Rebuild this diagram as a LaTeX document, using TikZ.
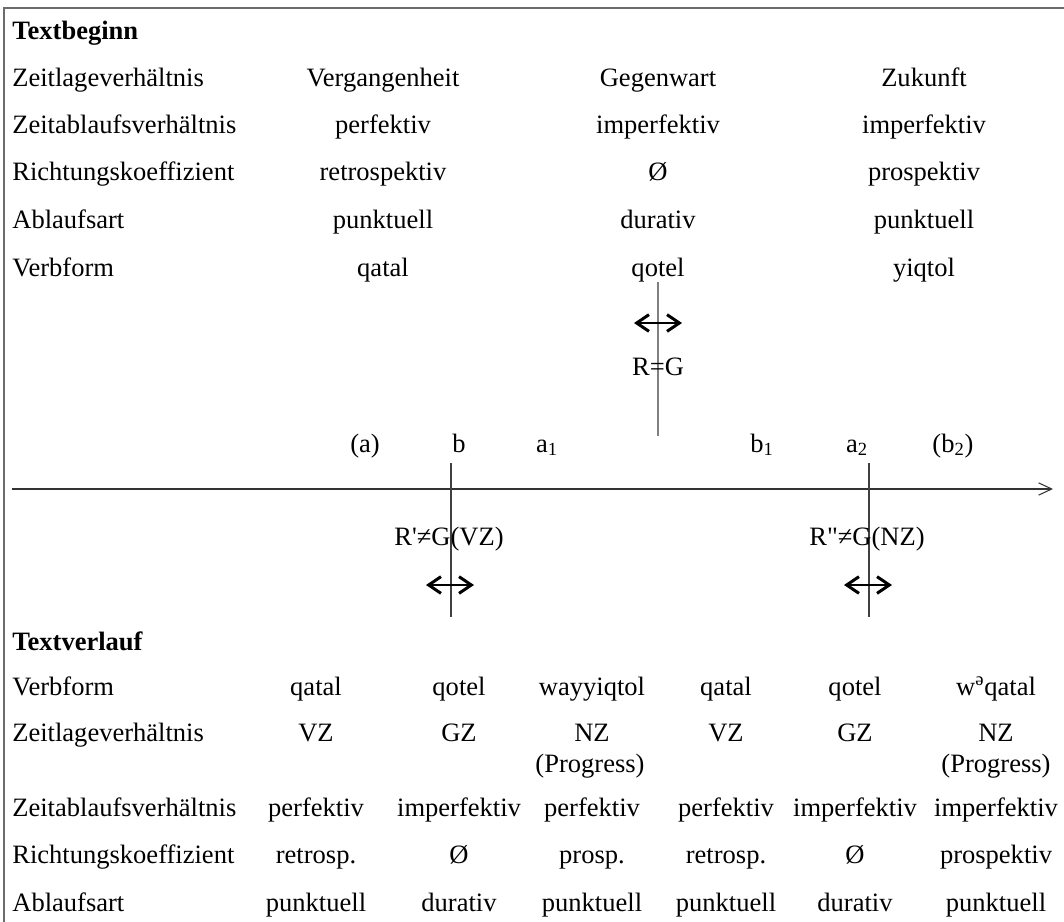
\documentclass[tikz,border=0pt]{standalone}
\usepackage{fontspec}
\setmainfont{Liberation Serif}
\usetikzlibrary{arrows.meta}

\begin{document}
\begin{tikzpicture}[x=0.02cm, y=-0.02cm,
    every node/.style={inner sep=0pt, font=\fontsize{15.1pt}{18pt}\selectfont},
    rowlabel/.style={anchor=base west},
    cell/.style={anchor=base},
    heading/.style={anchor=base west, font=\fontsize{15.1pt}{18pt}\selectfont\bfseries},
    span/.style={line width=1.7pt, {Straight Barb[length=7pt, width=9.5pt]}-{Straight Barb[length=7pt, width=9.5pt]}}]
    \useasboundingbox (0,0) rectangle (1064,922);

    % Frame (runs off at right and bottom)
    \draw[gray!85!black, line width=1.1pt] (4,922) -- (4,8) -- (1064,8);

    % Textbeginn
    \node[heading] (tb-head) at (12,40) {Textbeginn};
    \foreach \y/\lab/\va/\vb/\vc [count=\r] in {
        87/Zeitlageverhältnis/Vergangenheit/Gegenwart/Zukunft,
        134/Zeitablaufsverhältnis/perfektiv/imperfektiv/imperfektiv,
        181/Richtungskoeffizient/retrospektiv/Ø/prospektiv,
        229/Ablaufsart/punktuell/durativ/punktuell,
        276/Verbform/qatal/qotel/yiqtol} {
        \node[rowlabel] (tb-\r) at (12,\y) {\lab};
        \node[cell] (tb-\r-a) at (383,\y) {\va};
        \node[cell] (tb-\r-b) at (658,\y) {\vb};
        \node[cell] (tb-\r-c) at (924,\y) {\vc};
    }

    % Time axis
    \coordinate (axis-start) at (12,489);
    \coordinate (axis-end) at (1053,489);
    \draw[black!80, line width=1.4pt, -{Straight Barb[length=7.5pt, width=7pt, line width=0.6pt]}] (axis-start) -- (axis-end);

    % Points on the axis
    \foreach \x/\lab/\nm in {365/(a)/a0, 459/b/b0, 547/a\textsubscript{1}/a1, 762/b\textsubscript{1}/b1, 857/a\textsubscript{2}/a2, 953/(b\textsubscript{2})/b2} {
        \node[cell] (pt-\nm) at (\x,452) {\lab};
    }

    % Speech time R=G
    \coordinate (now-top) at (658,282);
    \coordinate (now-bot) at (658,436);
    \draw[gray, line width=1pt] (now-top) -- (now-bot);
    \coordinate (now-l) at (634,323);
    \coordinate (now-r) at (682,323);
    \draw[span] (now-l) -- (now-r);
    \node[cell] (now-lab) at (658,375) {R=G};

    % Shifted reference times (past / future)
    \foreach \x/\lab/\nm in {451/R\textquotesingle≠G(VZ)/past, 869/R\textquotedbl≠G(NZ)/fut} {
        \coordinate (\nm-top) at (\x,463);
        \coordinate (\nm-bot) at (\x,617);
        \draw[black!75, line width=0.75pt] (\nm-top) -- (\nm-bot);
        \coordinate (\nm-l) at (\x-25,585);
        \coordinate (\nm-r) at (\x+23,585);
        \draw[span] (\nm-l) -- (\nm-r);
        \node[cell] (\nm-lab) at (\x-2,545) {\lab};
    }

    % Textverlauf
    \node[heading] (tv-head) at (12,650) {Textverlauf};
    \foreach \y/\lab/\va/\vb/\vc/\vd/\ve/\vf [count=\r] in {
        695/Verbform/qatal/qotel/wayyiqtol/qatal/qotel/w\textsuperscript{ə}qatal,
        741/Zeitlageverhältnis/VZ/GZ/NZ/VZ/GZ/NZ,
        816/Zeitablaufsverhältnis/perfektiv/imperfektiv/perfektiv/perfektiv/imperfektiv/imperfektiv,
        863/Richtungskoeffizient/retrosp./Ø/prosp./retrosp./Ø/prospektiv,
        911/Ablaufsart/punktuell/durativ/punktuell/punktuell/durativ/punktuell} {
        \node[rowlabel] (tv-\r) at (12,\y) {\lab};
        \foreach \x/\v/\c in {316/\va/a, 459/\vb/b, 592/\vc/c, 726/\vd/d, 855/\ve/e, 996/\vf/f}
            \node[cell] (tv-\r-\c) at (\x,\y) {\v};
    }
    \node[cell] (tv-2-c2) at (590,772) {(Progress)};
    \node[cell] (tv-2-f2) at (996,772) {(Progress)};
\end{tikzpicture}
\end{document}
